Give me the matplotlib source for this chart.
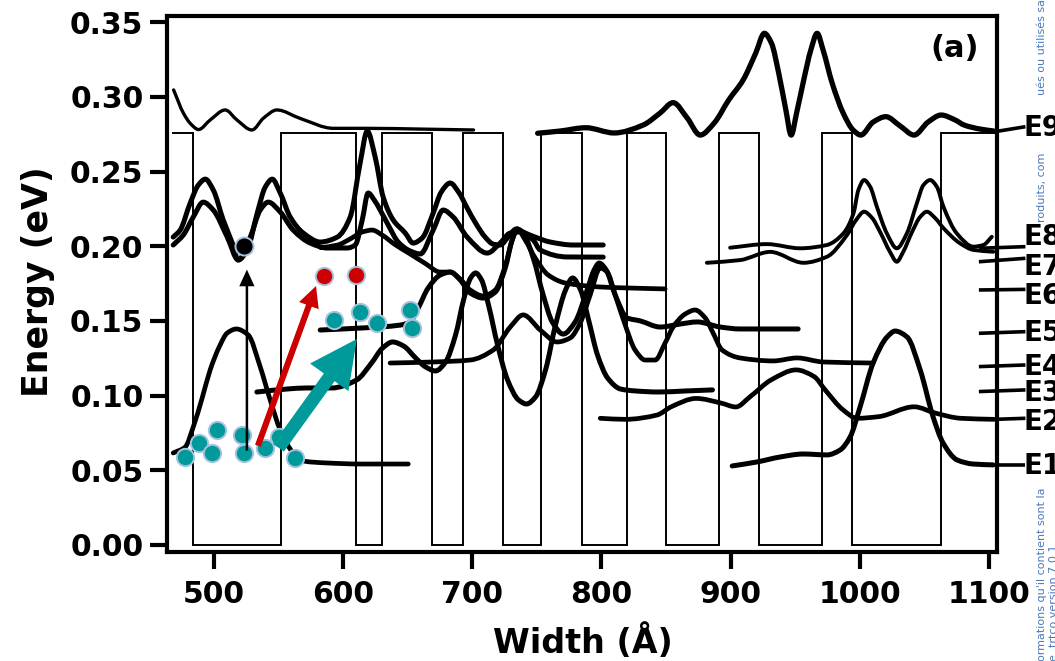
import matplotlib
matplotlib.use("Agg")
import matplotlib.pyplot as plt
from matplotlib.patches import FancyArrowPatch, ArrowStyle, PathPatch
from matplotlib.path import Path

plt.rcParams['font.family'] = ['DejaVu Sans']
plt.rcParams['font.weight'] = 'bold'

# ---------------- superlattice potential profile ----------------
layer_edges = [469, 484, 552, 610, 630, 669, 693, 724, 753, 785, 820, 850,
               891, 922, 971, 994, 1063, 1105]
layer_barrier = [1, 0, 1, 0, 1, 0, 1, 0, 1, 0, 1, 0, 1, 0, 1, 0, 1]
barrier_height = 0.276

# ---------------- wavefunctions drawn at their energies ----------------
E9a_x = [469.1, 476.8, 482.0, 488.4, 497.4, 509.0, 518.1, 529.7, 538.7, 549.0,
         567.1, 592.8, 618.6, 659.9, 701.1]
E9a_y = [0.3046, 0.2889, 0.2822, 0.2781, 0.2845, 0.2912, 0.2845, 0.2778, 0.2858,
         0.2912, 0.2855, 0.2789, 0.2789, 0.2784, 0.2778]

E9b_x = [750.7, 768.1, 788.0, 809.9, 832.3, 845.5, 855.5, 866.4, 876.4, 887.3,
         898.5, 909.6, 919.3, 926.1, 931.6, 937.2, 942.7, 946.8, 951.0, 956.5,
         962.0, 966.9, 971.5, 978.5, 987.0, 994.7, 1000.7, 1010.2, 1020.0, 1031.1,
         1041.9, 1052.7, 1062.8, 1073.6, 1080.6, 1093.0, 1103.5]
E9b_y = [0.2756, 0.2771, 0.2793, 0.2758, 0.2811, 0.2892, 0.2961, 0.2858, 0.2744,
         0.2825, 0.2979, 0.3112, 0.3291, 0.3425, 0.3358, 0.3157, 0.2912, 0.2744,
         0.2892, 0.3112, 0.3313, 0.3425, 0.3313, 0.3092, 0.2892, 0.2778, 0.2744,
         0.2831, 0.2867, 0.2805, 0.2744, 0.2831, 0.2878, 0.2845, 0.2811, 0.2784,
         0.2771]

E8a_x = [468.8, 474.2, 481.9, 488.2, 493.6, 499.8, 507.5, 514.5, 519.1, 526.1,
         533.8, 540.0, 545.4, 551.6, 559.3, 569.4, 582.5, 595.7, 605.7, 613.4,
         618.9, 625.0, 631.2, 639.0, 648.3, 654.4, 661.4, 669.9, 676.1, 683.0,
         690.0, 696.2, 703.2, 710.1, 716.3, 721.7, 727.9, 734.1, 741.1, 748.8,
         760.4, 778.2, 801.4]
E8a_y = [0.2061, 0.2108, 0.2288, 0.2409, 0.2449, 0.2376, 0.2175, 0.2021, 0.1908,
         0.1975, 0.2222, 0.2396, 0.2449, 0.2356, 0.2195, 0.2088, 0.2028, 0.2061,
         0.2195, 0.2557, 0.2771, 0.2597, 0.2329, 0.2175, 0.2088, 0.2021, 0.2055,
         0.2222, 0.2362, 0.2423, 0.2356, 0.2255, 0.2148, 0.2061, 0.2014, 0.2008,
         0.2061, 0.2115, 0.2088, 0.2061, 0.2028, 0.2008, 0.2008]

E7a_x = [468.8, 476.6, 484.3, 492.0, 499.8, 510.6, 519.1, 528.4, 536.1, 542.3,
         551.6, 561.6, 574.8, 587.9, 603.4, 609.6, 615.0, 619.6, 624.3, 628.9,
         635.1, 642.8, 652.1, 659.9, 669.9, 677.6, 685.4, 696.2, 711.7, 721.7,
         729.5, 737.2, 747.3, 752.6, 773.5, 801.4]
E7a_y = [0.2008, 0.2075, 0.2195, 0.2295, 0.2242, 0.2061, 0.1908, 0.2061, 0.2242,
         0.2295, 0.2229, 0.2108, 0.2021, 0.1988, 0.1988, 0.2008, 0.2175, 0.2356,
         0.2309, 0.2242, 0.2142, 0.2028, 0.1968, 0.1948, 0.2108, 0.2242, 0.2195,
         0.2061, 0.1954, 0.2021, 0.2088, 0.2095, 0.2041, 0.1975, 0.1928, 0.1927]

E8b_x = [899.6, 928.0, 953.7, 974.4, 987.2, 995.0, 998.8, 1003.2, 1007.9, 1013.1,
         1020.8, 1028.5, 1036.3, 1044.0, 1049.1, 1054.3, 1059.5, 1064.6, 1074.9,
         1087.8, 1095.5, 1102.0]
E8b_y = [0.1990, 0.2014, 0.1986, 0.2008, 0.2086, 0.2220, 0.2376, 0.2443, 0.2398,
         0.2264, 0.2086, 0.1986, 0.2086, 0.2287, 0.2409, 0.2443, 0.2398, 0.2264,
         0.2086, 0.1997, 0.2008, 0.2063]

E7b_x = [881.6, 907.3, 930.6, 956.3, 974.4, 989.9, 997.0, 1003.2, 1009.4, 1015.6,
         1023.3, 1028.5, 1033.4, 1040.3, 1046.5, 1051.7, 1058.1, 1064.6, 1077.5,
         1087.8, 1103.2]
E7b_y = [0.1889, 0.1907, 0.1962, 0.1889, 0.1929, 0.2074, 0.2175, 0.2231, 0.2189,
         0.2095, 0.1961, 0.1896, 0.1961, 0.2095, 0.2195, 0.2231, 0.2189, 0.2121,
         0.2019, 0.1975, 0.1963]

E6_x = [583.0, 596.0, 606.0, 615.0, 622.7, 630.4, 640.5, 652.1, 663.7, 675.3,
        683.0, 690.8, 698.5, 708.6, 717.9, 725.6, 731.0, 734.9, 741.1, 748.8,
        758.9, 772.0, 799.1, 822.3, 849.3]
E6_y = [0.1990, 0.2008, 0.2050, 0.2095, 0.2108, 0.2075, 0.2010, 0.1948, 0.1885,
        0.1827, 0.1827, 0.1780, 0.1707, 0.1667, 0.1707, 0.1867, 0.2041, 0.2115,
        0.2041, 0.1921, 0.1807, 0.1754, 0.1727, 0.1720, 0.1714]

E5_x = [582.5, 613.4, 644.4, 652.1, 658.3, 666.0, 675.3, 683.1, 690.8, 698.5,
        708.6, 717.9, 725.6, 731.0, 734.9, 740.3, 747.3, 755.0, 762.0, 770.5,
        779.7, 789.0, 794.4, 798.3, 803.7, 810.7, 819.9, 830.0, 845.5, 860.9,
        874.1, 891.9, 907.3, 952.2]
E5_y = [0.1439, 0.1452, 0.1472, 0.1493, 0.1586, 0.1720, 0.1807, 0.1827, 0.1774,
        0.1687, 0.1653, 0.1693, 0.1854, 0.2041, 0.2115, 0.2075, 0.1921, 0.1673,
        0.1493, 0.1412, 0.1493, 0.1707, 0.1841, 0.1887, 0.1841, 0.1673, 0.1520,
        0.1500, 0.1459, 0.1479, 0.1493, 0.1459, 0.1446, 0.1446]

E4_x = [636.6, 669.9, 698.5, 716.3, 729.5, 739.5, 752.7, 765.8, 775.9, 783.6,
        791.3, 799.1, 804.5, 810.7, 818.4, 826.1, 833.9, 841.6, 849.3, 855.5,
        864.8, 872.5, 880.3, 886.4, 893.4, 907.3, 932.9, 951.4, 971.5, 1010.2]
E4_y = [0.1218, 0.1225, 0.1238, 0.1305, 0.1459, 0.1540, 0.1439, 0.1359, 0.1386,
        0.1486, 0.1673, 0.1854, 0.1827, 0.1673, 0.1473, 0.1305, 0.1238, 0.1238,
        0.1352, 0.1459, 0.1546, 0.1573, 0.1520, 0.1419, 0.1305, 0.1252, 0.1232,
        0.1252, 0.1225, 0.1218]

E3_x = [533.5, 556.7, 572.0, 591.3, 610.6, 622.2, 630.7, 638.5, 647.0, 656.3,
        664.0, 671.7, 679.5, 687.2, 693.4, 698.8, 702.7, 707.3, 712.7, 719.7,
        727.4, 735.9, 742.1, 749.1, 756.8, 764.5, 772.3, 777.7, 783.9, 790.1,
        797.0, 804.8, 814.8, 826.4, 844.2, 865.1, 885.9]
E3_y = [0.1024, 0.1044, 0.1051, 0.1051, 0.1104, 0.1218, 0.1318, 0.1359, 0.1332,
        0.1252, 0.1192, 0.1165, 0.1225, 0.1406, 0.1640, 0.1787, 0.1821, 0.1774,
        0.1606, 0.1339, 0.1105, 0.0971, 0.0944, 0.0991, 0.1172, 0.1473, 0.1707,
        0.1787, 0.1707, 0.1506, 0.1272, 0.1118, 0.1044, 0.1031, 0.1024, 0.1031,
        0.1038]

E2_x = [799.1, 818.4, 843.1, 854.0, 873.3, 892.6, 904.0, 915.1, 931.3, 950.6,
        964.6, 973.1, 987.0, 997.8, 1014.5, 1041.9, 1058.7, 1078.0, 1103.5]
E2_y = [0.0848, 0.0841, 0.0870, 0.0925, 0.0981, 0.0950, 0.0924, 0.0993, 0.1105,
        0.1172, 0.1127, 0.1038, 0.0904, 0.0848, 0.0859, 0.0925, 0.0882, 0.0848,
        0.0841]

E1a_x = [468.8, 478.1, 484.3, 491.2, 497.4, 504.4, 510.6, 517.6, 526.8, 536.1,
         543.8, 551.6, 561.6, 569.4, 587.9, 613.4, 650.6]
E1a_y = [0.0616, 0.0656, 0.0790, 0.0984, 0.1172, 0.1326, 0.1419, 0.1446, 0.1406,
         0.1192, 0.0971, 0.0770, 0.0616, 0.0562, 0.0549, 0.0542, 0.0542]

E1b_x = [901.2, 920.5, 938.3, 956.1, 974.6, 984.7, 992.4, 1000.1, 1010.2, 1021.0,
         1027.2, 1036.5, 1046.6, 1056.6, 1064.3, 1075.2, 1087.5, 1103.0]
E1b_y = [0.0529, 0.0556, 0.0589, 0.0609, 0.0603, 0.0636, 0.0723, 0.0924, 0.1218,
         0.1392, 0.1432, 0.1392, 0.1172, 0.0857, 0.0683, 0.0569, 0.0542, 0.0536]

# level markers on the right side
level_names = ['E1', 'E2', 'E3', 'E4', 'E5', 'E6', 'E7', 'E8', 'E9']
level_line_y0 = [0.0536, 0.0841, 0.1027, 0.1194, 0.1417, 0.1707, 0.1896, 0.1986, 0.2766]
level_line_y1 = [0.0536, 0.0848, 0.1038, 0.1205, 0.1428, 0.1711, 0.1919, 0.1997, 0.2800]
level_text_y = [0.0529, 0.0823, 0.1017, 0.1191, 0.1419, 0.1667, 0.1861, 0.2062, 0.2791]

# transition markers
teal_x = [478.1, 488.4, 498.8, 502.6, 522.0, 523.2, 540.0, 550.3, 563.2,
          592.8, 613.5, 626.4, 652.1, 653.4]
teal_y = [0.0591, 0.0681, 0.0614, 0.0770, 0.0736, 0.0614, 0.0647, 0.0725, 0.0580,
          0.1506, 0.1562, 0.1484, 0.1573, 0.1450]
red_x = [585.2, 610.1]
red_y = [0.1800, 0.1807]
black_x = [523.2]
black_y = [0.2001]


def smooth_curve(xs, ys):
    """Shape-preserving cubic Bezier path through the points (x increasing)."""
    n = len(xs)
    h = [xs[k + 1] - xs[k] for k in range(n - 1)]
    d = [(ys[k + 1] - ys[k]) / h[k] for k in range(n - 1)]
    m = [0.0] * n
    m[0], m[-1] = d[0], d[-1]
    for k in range(1, n - 1):
        if d[k - 1] * d[k] <= 0:
            m[k] = 0.0
        else:
            w1 = 2 * h[k] + h[k - 1]
            w2 = h[k] + 2 * h[k - 1]
            m[k] = (w1 + w2) / (w1 / d[k - 1] + w2 / d[k])
    verts = [(xs[0], ys[0])]
    codes = [Path.MOVETO]
    for k in range(n - 1):
        t = h[k] / 3.0
        verts += [(xs[k] + t, ys[k] + m[k] * t),
                  (xs[k + 1] - t, ys[k + 1] - m[k + 1] * t),
                  (xs[k + 1], ys[k + 1])]
        codes += [Path.CURVE4] * 3
    return Path(verts, codes)


# ---------------- figure ----------------
fig = plt.figure(figsize=(10.55, 6.61), dpi=100)
ax = fig.add_axes([0.1583, 0.1649, 0.7867, 0.8109])

# potential profile
prof_x, prof_y = [], []
for i, b in enumerate(layer_barrier):
    lvl = barrier_height if b else 0.0
    prof_x += [layer_edges[i], layer_edges[i + 1]]
    prof_y += [lvl, lvl]
ax.plot(prof_x, prof_y, color='black', lw=1.4, solid_joinstyle='miter', zorder=1)

curves = [
    (E9a_x, E9a_y, 2.4), (E9b_x, E9b_y, 3.8),
    (E8a_x, E8a_y, 3.6), (E7a_x, E7a_y, 3.6),
    (E8b_x, E8b_y, 2.8), (E7b_x, E7b_y, 2.8),
    (E6_x, E6_y, 3.4), (E5_x, E5_y, 3.6), (E4_x, E4_y, 3.4),
    (E3_x, E3_y, 3.6), (E2_x, E2_y, 3.4),
    (E1a_x, E1a_y, 3.4), (E1b_x, E1b_y, 3.6),
]
for cx, cy, lw in curves:
    ax.add_patch(PathPatch(smooth_curve(cx, cy), facecolor='none', edgecolor='black',
                           lw=lw, capstyle='round', joinstyle='round', zorder=2))

for name, y0, y1, ty in zip(level_names, level_line_y0, level_line_y1, level_text_y):
    x0 = 1104 if name in ('E1', 'E2', 'E9') else 1092
    ax.plot([x0, 1128], [y0, y1], color='black', lw=2.6, clip_on=False,
            solid_capstyle='butt', zorder=2)
    ax.text(1126.5, ty, name, fontsize=20, fontweight='bold', ha='left',
            va='center', clip_on=False)

# markers
ax.plot(teal_x, teal_y, 'o', ms=12.5, mfc='#009a9a', mec='#a9c3df', mew=1.4,
        zorder=4)
ax.plot(red_x, red_y, 'o', ms=12.5, mfc='#cc0000', mec='#a9c3df', mew=1.4,
        zorder=4)
ax.plot(black_x, black_y, 'o', ms=13, mfc='black', mec='#a9c3df', mew=1.4,
        zorder=4)

# arrows
ax.add_patch(FancyArrowPatch((525.8, 0.0613), (525.8, 0.1862),
                             arrowstyle=ArrowStyle.Simple(head_length=12, head_width=11,
                                                          tail_width=1.8),
                             color='black', lw=0, zorder=5))
ax.add_patch(FancyArrowPatch((533.6, 0.0647), (580.0, 0.1751),
                             arrowstyle=ArrowStyle.Simple(head_length=15, head_width=15,
                                                          tail_width=4.4),
                             color='#cc0000', lw=0, zorder=5))
ax.add_patch(FancyArrowPatch((549.0, 0.0636), (612.1, 0.1394),
                             arrowstyle=ArrowStyle.Simple(head_length=34, head_width=34,
                                                          tail_width=9.5),
                             color='#009a9a', lw=0, zorder=5))

ax.text(1073.6, 0.3326, '(a)', fontsize=22, fontweight='bold', ha='center', va='center')

# axes styling
ax.set_xlim(464, 1106)
ax.set_ylim(-0.0047, 0.3541)
ax.set_xticks([500, 600, 700, 800, 900, 1000, 1100])
ax.set_yticks([0.00, 0.05, 0.10, 0.15, 0.20, 0.25, 0.30, 0.35])
ax.set_yticklabels(['0.00', '0.05', '0.10', '0.15', '0.20', '0.25', '0.30', '0.35'])
for s in ax.spines.values():
    s.set_linewidth(3)
ax.tick_params(axis='both', which='major', direction='out', length=12, width=3,
               labelsize=21.5, top=False, right=False)
ax.tick_params(axis='x', pad=8)
ax.tick_params(axis='y', pad=5)
for lab in ax.get_xticklabels() + ax.get_yticklabels():
    lab.set_fontweight('bold')

ax.set_xlabel('Width (Å)', fontsize=24, fontweight='bold', va='center')
ax.xaxis.set_label_coords(0.501, -0.168)
ax.set_ylabel('Energy (eV)', fontsize=25, fontweight='bold', va='center')
ax.yaxis.set_label_coords(-0.155, 0.505)

# document margin notes
wm = dict(color='#4a79b8', fontsize=8, rotation=90, fontweight='normal')
fig.text(0.9880, 0.857, 'ués ou utilisés sans', ha='center', va='bottom', **wm)
fig.text(0.9880, 0.664, 'roduits, com', ha='center', va='bottom', **wm)
fig.text(0.9880, 0.0, "ormations qu'il contient sont la", ha='center', va='bottom', **wm)
fig.text(0.9992, 0.0, 'e. trtco version 7.0.1', ha='center', va='bottom', **wm)

fig.savefig('out.png', dpi=100)
